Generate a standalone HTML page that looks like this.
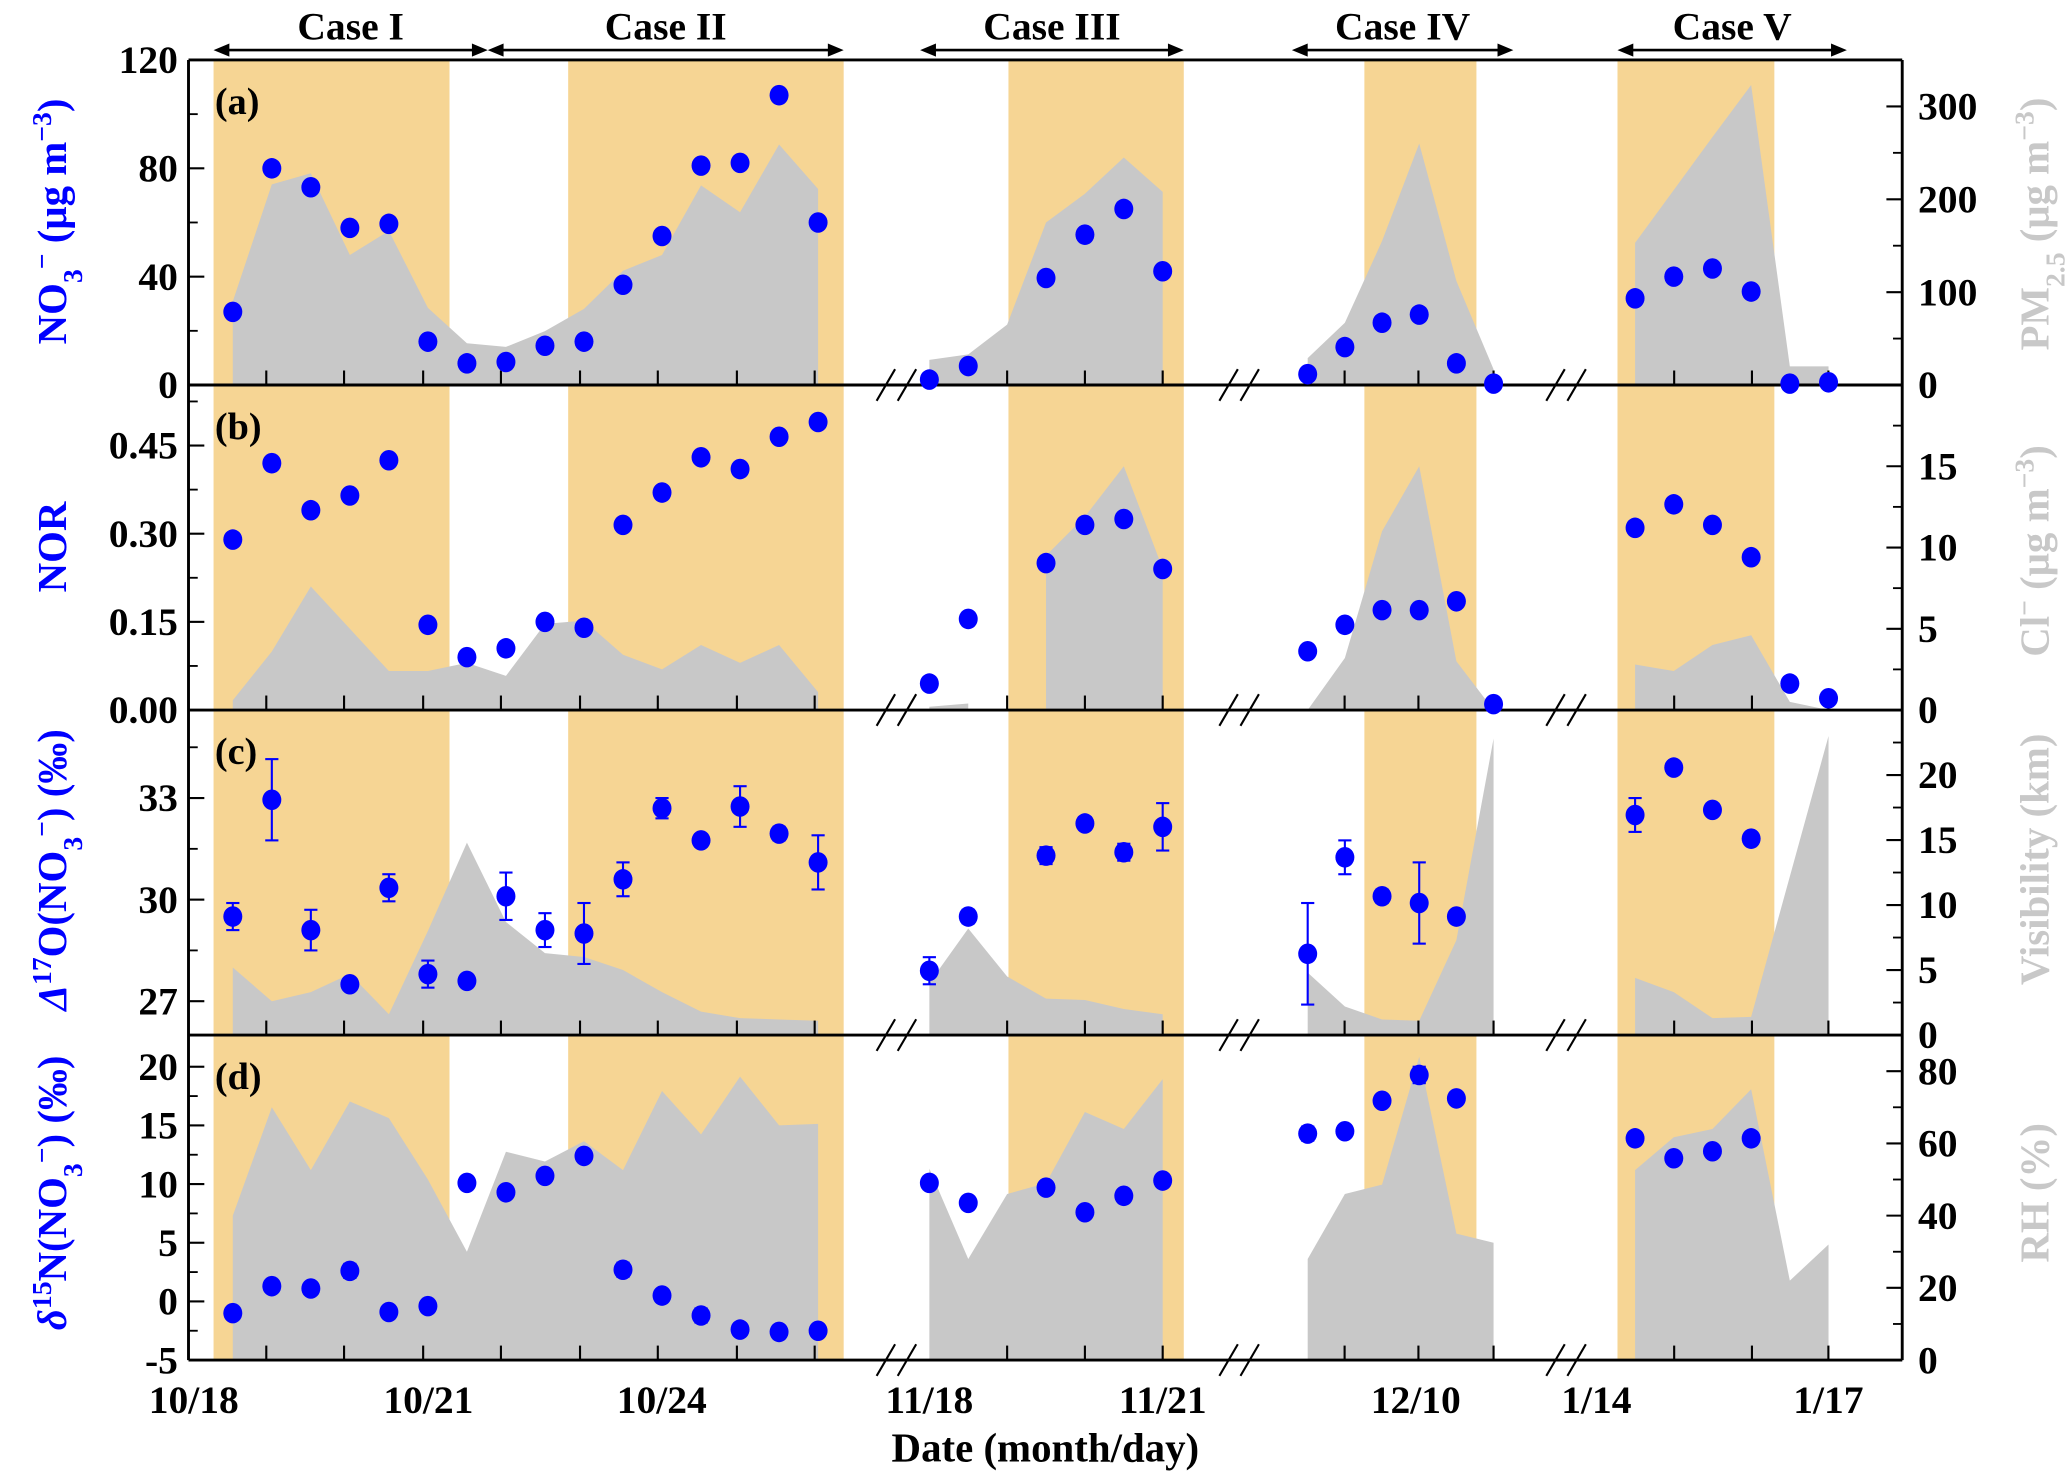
<!DOCTYPE html>
<html><head><meta charset="utf-8"><style>
html,body{margin:0;padding:0;background:#fff;}
svg{display:block;font-family:"Liberation Serif",serif;font-weight:bold;}
</style></head><body>
<svg id="chart" width="2067" height="1482" viewBox="0 0 1568 1124.4" preserveAspectRatio="none" xmlns="http://www.w3.org/2000/svg">
</svg>
<script>
// ---------- data ----------
const xLabels = ["10/18","10/21","10/24","11/18","11/21","12/10","1/14","1/17"];
const caseNames = ["Case I","Case II","Case III","Case IV","Case V"];
// panel (a)
const no3 = [[27,80,73,58,59.5,16,8,8.5,14.5,16,37,55,81,82,107,60],[2,7,null,39.5,55.5,65,42],[4,14,23,26,8,0.5],[32,40,43,34.5,0.5,1]];
const pm25 = [[90,216,228,140,166,83,45,41,58,82,123,140,215,186,259,211],[27,33,65,175,206,245,208],[29,67,155,260,112,17],[153,210,267,323,20,20]];
// panel (b)
const nor = [[0.29,0.42,0.34,0.365,0.425,0.145,0.09,0.105,0.15,0.14,0.315,0.37,0.43,0.41,0.465,0.49],[0.045,0.155,null,0.25,0.315,0.325,0.24],[0.10,0.145,0.17,0.17,0.185,0.01],[0.31,0.35,0.315,0.26,0.045,0.02]];
const cl = [[0.6,3.6,7.6,5,2.4,2.4,2.9,2.1,5.3,5.5,3.4,2.5,4,2.9,4,1.1],[0.2,0.4,null,9.5,11.9,15,8.7],[0,3.2,11,15,3,0],[2.8,2.4,4,4.6,0.5,0]];
// panel (c)
const d17o = [[29.5,32.95,29.1,27.5,30.35,27.8,27.6,30.1,29.1,29.0,30.6,32.7,31.75,32.75,31.95,31.1],[27.9,29.5,null,31.3,32.25,31.4,32.15],[28.4,31.25,30.1,29.9,29.5,null],[32.5,33.9,32.65,31.8,null,null]];
const d17oErr = [[0.4,1.2,0.6,0.1,0.4,0.4,0.1,0.7,0.5,0.9,0.5,0.3,0.1,0.6,0.2,0.8],[0.4,0.2,null,0.25,0.15,0.25,0.7],[1.5,0.5,0.2,1.2,0.1,null],[0.5,0.1,0.1,0.1,null,null]];
const vis = [[5.2,2.6,3.3,4.7,1.6,8,14.8,8.7,6.3,6.0,5,3.3,1.8,1.3,1.2,1.1],[4,8.2,4.5,2.8,2.7,2,1.6],[4.8,2.2,1.2,1.1,7.3,22.8],[4.4,3.3,1.3,1.4,12.2,23]];
// panel (d)
const d15n = [[-1.0,1.3,1.1,2.6,-0.9,-0.4,10.1,9.3,10.7,12.4,2.7,0.5,-1.2,-2.4,-2.6,-2.5],[10.1,8.4,null,9.7,7.6,9.0,10.3],[14.3,14.5,17.1,19.3,17.3,null],[13.9,12.2,12.8,13.9,null,null]];
const d15nErr = [[0.3,0.3,0.3,0.6,0.3,0.3,0.4,0.3,0.3,0.3,0.6,0.3,0.6,0.3,0.3,0.3],[0.3,0.3,null,0.3,0.3,0.3,0.5],[0.6,0.3,0.3,0.7,0.5,null],[0.3,0.3,0.3,0.4,null,null]];
const rh = [[40,70,52.6,71.6,67,50,30,57.7,55,60.6,52.6,74.5,62.5,78.5,65,65.4],[53,28,46,49,68.7,64,77.8],[28,46,48.6,84,35,32.5],[52.6,61.7,64,75,22,32]];

// ---------- layout ----------
const NS="http://www.w3.org/2000/svg";
const svg=document.getElementById('chart');
const L=143, R=1443, TOP=45.5, PH=246.6;
const segs=[{x0:147,dx:29.6,start:1},{x0:705,dx:29.5,start:0},{x0:992,dx:28.2,start:0},{x0:1211,dx:29.35,start:1}];
function xAt(s,k){const g=segs[s];return g.x0+g.dx*(g.start+k);}
const labelX=[147,325,502,705,882,1074,1211,1387];
const tickX=[[202,261,321,380,440,499,559,618],[764,823,882],[1020,1076,1133],[1270,1329,1387]];
const caseSpans=[[162,370],[370,640],[698,898],[980,1148],[1227,1401]];
const shade=[[162,341],[431,640],[765,898],[1035,1120],[1227,1346]];
function el(tag,attrs,parent){const e=document.createElementNS(NS,tag);for(const k in attrs)e.setAttribute(k,attrs[k]);(parent||svg).appendChild(e);return e;}

const panels=[
 {id:'a',lmin:0,lmax:120,rmin:0,rmax:350,lmaj:[0,40,80,120],lmin_:[20,60,100],lfmt:v=>String(v),rmaj:[0,100,200,300],rmin_:[50,150,250],left:no3,err:null,right:pm25},
 {id:'b',lmin:0,lmax:0.553,rmin:0,rmax:20,lmaj:[0,0.15,0.30,0.45],lmin_:[0.075,0.225,0.375,0.525],lfmt:v=>v.toFixed(2),rmaj:[0,5,10,15],rmin_:[2.5,7.5,12.5,17.5],left:nor,err:null,right:cl},
 {id:'c',lmin:26,lmax:35.6,rmin:0,rmax:25,lmaj:[27,30,33],lmin_:[28.5,31.5,34.5],lfmt:v=>String(v),rmaj:[0,5,10,15,20],rmin_:[2.5,7.5,12.5,17.5,22.5],left:d17o,err:d17oErr,right:vis},
 {id:'d',lmin:-5,lmax:22.7,rmin:0,rmax:90,lmaj:[-5,0,5,10,15,20],lmin_:[-2.5,2.5,7.5,12.5,17.5],lfmt:v=>String(v),rmaj:[0,20,40,60,80],rmin_:[10,30,50,70],left:d15n,err:d15nErr,right:rh}
];

// shading
const gShade=el('g',{});


shade.forEach((s,i)=>{const r=el('rect',{x:s[0],y:TOP,width:s[1]-s[0],height:PH*4,fill:'#f6d594'},gShade);

});

panels.forEach((p,pi)=>{
 const T=TOP+pi*PH, B=T+PH;
 const yl=v=>B-(v-p.lmin)/(p.lmax-p.lmin)*PH;
 const yr=v=>B-(v-p.rmin)/(p.rmax-p.rmin)*PH;
 const g=el('g',{});
 
 
 p.right.forEach((arr,s)=>{
  let run=[];
  const flush=()=>{ if(run.length>1){
    let d='M'+run[0][0]+','+B;
    run.forEach(q=>{d+=' L'+q[0]+','+q[1];});
    d+=' L'+run[run.length-1][0]+','+B+' Z';
    const a=el('path',{d:d,fill:'#c8c8c8'},g);
    
    
  } run=[]; };
  arr.forEach((v,k)=>{ if(v===null){flush();} else run.push([xAt(s,k),yr(v)]); });
  flush();
 });
 el('line',{x1:L,y1:B,x2:R,y2:B,stroke:'#000','stroke-width':2.2},g);
 el('line',{x1:L,y1:T,x2:L,y2:B,stroke:'#000','stroke-width':2.2},g);
 el('line',{x1:R,y1:T,x2:R,y2:B,stroke:'#000','stroke-width':2.2},g);
 tickX.forEach(arr=>arr.forEach(x=>el('line',{x1:x,y1:B,x2:x,y2:B-11,stroke:'#000','stroke-width':1.6},g)));
 p.lmaj.forEach(v=>{const y=yl(v);el('line',{x1:L,y1:y,x2:L+12,y2:y,stroke:'#000','stroke-width':1.6},g);
  const t=el('text',{x:L-8,y:y+10,'font-size':30,'text-anchor':'end',fill:'#000'},g);t.textContent=p.lfmt(v);
  
  });
 p.lmin_.forEach(v=>{const y=yl(v);el('line',{x1:L,y1:y,x2:L+7,y2:y,stroke:'#000','stroke-width':1.4},g);});
 p.rmaj.forEach(v=>{const y=yr(v);el('line',{x1:R,y1:y,x2:R-12,y2:y,stroke:'#000','stroke-width':1.6},g);
  const t=el('text',{x:R+12,y:y+10,'font-size':30,'text-anchor':'start',fill:'#000'},g);t.textContent=String(v);
  
  });
 p.rmin_.forEach(v=>{const y=yr(v);el('line',{x1:R,y1:y,x2:R-7,y2:y,stroke:'#000','stroke-width':1.4},g);});
 [[670,686],[930,946],[1178,1194]].forEach(b=>{
  b.forEach(x=>el('line',{x1:x-5,y1:B+12,x2:x+9,y2:B-12,stroke:'#000','stroke-width':1.6},g));
 });
 p.left.forEach((arr,s)=>arr.forEach((v,k)=>{ if(v===null)return;
  const x=xAt(s,k), y=yl(v);
  if(p.err && p.err[s][k]){const e=p.err[s][k];const y1=yl(v+e),y2=yl(v-e);
   el('line',{x1:x,y1:y1,x2:x,y2:y2,stroke:'#0000ff','stroke-width':1.6},g);
   el('line',{x1:x-5,y1:y1,x2:x+5,y2:y1,stroke:'#0000ff','stroke-width':1.6},g);
   el('line',{x1:x-5,y1:y2,x2:x+5,y2:y2,stroke:'#0000ff','stroke-width':1.6},g);}
  const c=el('ellipse',{cx:x,cy:y,rx:7.2,ry:7.8,fill:'#0000ff'},g);
  
  
 }));
 const lab=el('text',{x:163,y:T+41,'font-size':29,fill:'#000'},g);lab.textContent='('+p.id+')';
 
 
});
el('line',{x1:L,y1:TOP,x2:R,y2:TOP,stroke:'#000','stroke-width':2.2});
caseSpans.forEach((c,i)=>{
 const g=el('g',{});
 
 
 el('line',{x1:c[0]+4,y1:38,x2:c[1]-4,y2:38,stroke:'#000','stroke-width':2},g);
 el('path',{d:`M${c[0]},38 l12,-5 l0,10 z M${c[1]},38 l-12,-5 l0,10 z`,fill:'#000'},g);
 const t=el('text',{x:(c[0]+c[1])/2,y:30,'font-size':30,'text-anchor':'middle',fill:'#000'},g);t.textContent=caseNames[i];
});
xLabels.forEach((s,i)=>{const t=el('text',{x:labelX[i],y:1072,'font-size':30,'text-anchor':'middle',fill:'#000'});t.textContent=s;
 
 });
const xt=el('text',{x:793,y:1109,'font-size':31,'text-anchor':'middle',fill:'#000'});xt.textContent='Date (month/day)';


function vtitle(html,x,y,color,name){
 const t=el('text',{x:0,y:0,transform:`translate(${x},${y}) rotate(-90)`,'font-size':31,'text-anchor':'middle',fill:color});
 t.innerHTML=html;
 
 
}
vtitle('NO<tspan baseline-shift="sub" font-size="21">3</tspan><tspan baseline-shift="super" font-size="21">−</tspan> (μg m<tspan baseline-shift="super" font-size="21">−3</tspan>)',50,168,'#0000ff','y-axis-title-no3');
vtitle('NOR',50,415,'#0000ff','y-axis-title-nor');
vtitle('<tspan font-style="italic">Δ</tspan><tspan baseline-shift="super" font-size="21">17</tspan>O(NO<tspan baseline-shift="sub" font-size="21">3</tspan><tspan baseline-shift="super" font-size="21">−</tspan>) (‰)',50,660,'#0000ff','y-axis-title-d17o');
vtitle('<tspan font-style="italic">δ</tspan><tspan baseline-shift="super" font-size="21">15</tspan>N(NO<tspan baseline-shift="sub" font-size="21">3</tspan><tspan baseline-shift="super" font-size="21">−</tspan>) (‰)',50,905,'#0000ff','y-axis-title-d15n');
vtitle('PM<tspan baseline-shift="sub" font-size="21">2.5</tspan> (μg m<tspan baseline-shift="super" font-size="21">−3</tspan>)',1554,170,'#c8c8c8','y2-axis-title-pm25');
vtitle('Cl<tspan baseline-shift="super" font-size="21">−</tspan> (μg m<tspan baseline-shift="super" font-size="21">−3</tspan>)',1554,418,'#c8c8c8','y2-axis-title-cl');
vtitle('Visibility (km)',1554,652,'#c8c8c8','y2-axis-title-visibility');
vtitle('RH (%)',1554,905,'#c8c8c8','y2-axis-title-rh');
</script>
</body></html>
